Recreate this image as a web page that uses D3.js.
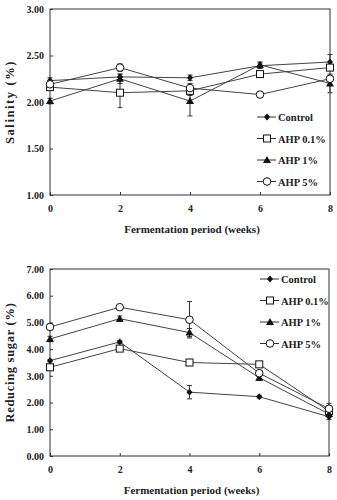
<!DOCTYPE html>
<html>
<head>
<meta charset="utf-8">
<script src="https://cdn.jsdelivr.net/npm/d3@7"></script>
<style>
  body { margin: 0; background: #fff; }
  text { font-family: "Liberation Serif", "DejaVu Serif", serif; font-weight: bold; fill: #222; }
</style>
</head>
<body>
<div id="chart"></div>
<script>
// Data
const weeks = [0, 2, 4, 6, 8];
const seriesNames = ["Control", "AHP 0.1%", "AHP 1%", "AHP 5%"];
const markerTypes = ["diamond", "square", "triangle", "circle"];

const salinity = [
  [2.23, 2.27, 2.26, 2.39, 2.43],
  [2.16, 2.10, 2.12, 2.30, 2.37],
  [2.01, 2.25, 2.01, 2.40, 2.20],
  [2.19, 2.37, 2.15, 2.08, 2.25]
];
const salinityErr = [
  [0.03, 0.03, 0.03, 0.03, 0.08],
  [0.03, 0.16, 0.05, 0.03, 0.03],
  [0.03, 0.05, 0.16, 0.03, 0.10],
  [0.02, 0.04, 0.05, 0.02, 0.03]
];
const salinityTicks = [1.0, 1.5, 2.0, 2.5, 3.0];

const sugar = [
  [3.57, 4.27, 2.39, 2.22, 1.47],
  [3.32, 4.02, 3.50, 3.43, 1.68],
  [4.38, 5.14, 4.62, 2.93, 1.57],
  [4.83, 5.57, 5.10, 3.10, 1.77]
];
const sugarErr = [
  [0.05, 0.05, 0.25, 0.05, 0.10],
  [0.10, 0.10, 0.10, 0.05, 0.10],
  [0.10, 0.10, 0.15, 0.10, 0.10],
  [0.10, 0.05, 0.68, 0.10, 0.20]
];
const sugarTicks = [0, 1, 2, 3, 4, 5, 6, 7];

const svg = d3.select("#chart").append("svg")
    .attr("width", 337)
    .attr("height", 500);

function drawMarker(g, type, x, y) {
  const ink = "#111";
  if (type === "diamond") {
    g.append("path").attr("d", `M${x},${y-3.5}L${x+3},${y}L${x},${y+3.5}L${x-3},${y}Z`).attr("fill", ink);
  } else if (type === "square") {
    g.append("rect").attr("x", x-3.5).attr("y", y-3.5).attr("width", 7).attr("height", 7)
      .attr("fill", "#fff").attr("stroke", ink).attr("stroke-width", 1);
  } else if (type === "triangle") {
    g.append("path").attr("d", `M${x},${y-4}L${x+4},${y+3}L${x-4},${y+3}Z`).attr("fill", ink);
  } else {
    g.append("circle").attr("cx", x).attr("cy", y).attr("r", 3.8)
      .attr("fill", "#fff").attr("stroke", ink).attr("stroke-width", 1);
  }
}

function drawPanel(opt) {
  const x = d3.scaleLinear().domain([0, 8]).range([opt.left, opt.right]);
  const y = d3.scaleLinear().domain(opt.domain).range([opt.bottom, opt.top]);
  const g = svg.append("g");

  // frame
  g.append("rect")
    .attr("x", opt.left).attr("y", opt.top)
    .attr("width", opt.right - opt.left).attr("height", opt.bottom - opt.top)
    .attr("fill", "none").attr("stroke", "#333").attr("stroke-width", 1);

  // x axis
  const xAxis = g.append("g").attr("transform", `translate(0,${opt.bottom})`)
    .call(d3.axisBottom(x).tickValues(weeks).tickSize(-3).tickPadding(10).tickFormat(d3.format("d")));
  xAxis.select(".domain").remove();
  xAxis.selectAll("line").attr("stroke", "#333");
  xAxis.selectAll("text").attr("font-size", 10).attr("font-family", "Liberation Serif").attr("font-weight", "bold").attr("fill", "#222");

  // y axis
  const yAxis = g.append("g").attr("transform", `translate(${opt.left},0)`)
    .call(d3.axisLeft(y).tickValues(opt.ticks).tickSize(-3).tickPadding(6).tickFormat(d3.format(".2f")));
  yAxis.select(".domain").remove();
  yAxis.selectAll("line").attr("stroke", "#333");
  yAxis.selectAll("text").attr("font-size", 10).attr("font-family", "Liberation Serif").attr("font-weight", "bold").attr("fill", "#222");

  // titles
  g.append("text")
    .attr("x", (opt.left + opt.right) / 2 + 2).attr("y", opt.bottom + 38)
    .attr("text-anchor", "middle").attr("font-size", 11)
    .text("Fermentation period (weeks)");
  g.append("text")
    .attr("transform", `translate(14,${(opt.top + opt.bottom) / 2}) rotate(-90)`)
    .attr("text-anchor", "middle").attr("font-size", opt.yTitleSize).attr("letter-spacing", opt.yTitleSpacing)
    .text(opt.yTitle);

  const line = d3.line().x((d, i) => x(weeks[i])).y(d => y(d));

  opt.values.forEach((vals, s) => {
    // error bars
    vals.forEach((v, i) => {
      const e = opt.errors[s][i];
      const cx = x(weeks[i]);
      g.append("line").attr("x1", cx).attr("x2", cx).attr("y1", y(v - e)).attr("y2", y(v + e))
        .attr("stroke", "#333").attr("stroke-width", 1);
      [v - e, v + e].forEach(w => {
        g.append("line").attr("x1", cx - 2.5).attr("x2", cx + 2.5).attr("y1", y(w)).attr("y2", y(w))
          .attr("stroke", "#333").attr("stroke-width", 1);
      });
    });
    g.append("path").datum(vals).attr("d", line)
      .attr("fill", "none").attr("stroke", "#444").attr("stroke-width", 1);
  });
  opt.values.forEach((vals, s) => {
    vals.forEach((v, i) => drawMarker(g, markerTypes[s], x(weeks[i]), y(v)));
  });

  // legend
  seriesNames.forEach((name, s) => {
    const ly = opt.legendY + s * opt.legendStep;
    g.append("line").attr("x1", opt.legendX).attr("x2", opt.legendX + 19)
      .attr("y1", ly).attr("y2", ly).attr("stroke", "#333").attr("stroke-width", 1);
    drawMarker(g, markerTypes[s], opt.legendX + 10, ly);
    g.append("text").attr("x", opt.legendX + 21).attr("y", ly + 4)
      .attr("font-size", 10.5).text(name);
  });
}

drawPanel({
  left: 50, right: 330, top: 9, bottom: 195,
  domain: [1, 3], ticks: salinityTicks,
  values: salinity, errors: salinityErr,
  yTitle: "Salinity (%)", yTitleSize: 12.5, yTitleSpacing: 1.6,
  legendX: 257, legendY: 117, legendStep: 21.5
});

drawPanel({
  left: 50, right: 329, top: 269, bottom: 456,
  domain: [0, 7], ticks: sugarTicks,
  values: sugar, errors: sugarErr,
  yTitle: "Reducing sugar (%)", yTitleSize: 12.5, yTitleSpacing: 0.7,
  legendX: 260, legendY: 279, legendStep: 21.5
});
</script>
</body>
</html>
